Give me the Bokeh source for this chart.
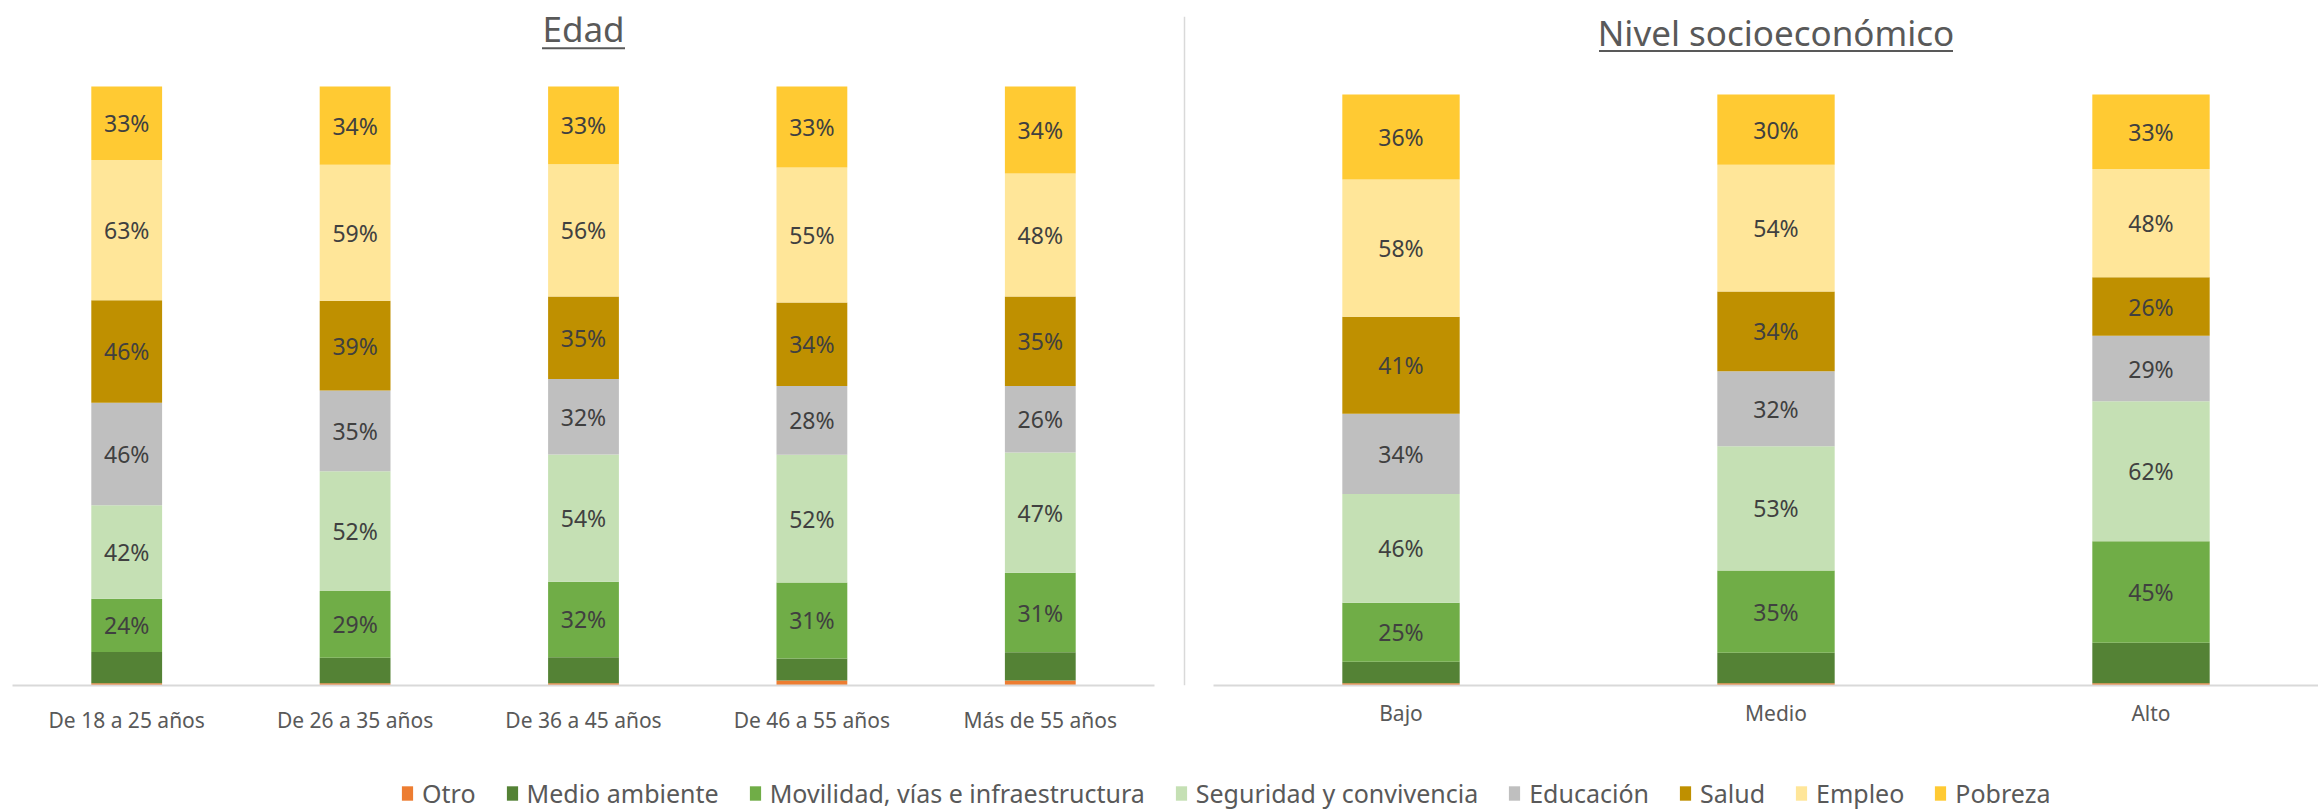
from bokeh.plotting import figure
from bokeh.models import (ColumnDataSource, Range1d, FixedTicker, Label, BoxAnnotation,
                          Span, Legend, LegendItem)
from bokeh.layouts import row, column
from bokeh.embed import file_html
from bokeh.resources import INLINE
from bokeh.core.properties import value

# ---------------- data ----------------
series = ["Otro", "Medio ambiente", "Movilidad, vías e infraestructura",
          "Seguridad y convivencia", "Educación", "Salud", "Empleo", "Pobreza"]
colors = ["#ED7D31", "#548235", "#70AD47", "#C5E0B4", "#BFBFBF", "#BF9000", "#FFE699", "#FFCA33"]
labeled = [False, False, True, True, True, True, True, True]

edad_cats = ["De 18 a 25 años", "De 26 a 35 años", "De 36 a 45 años", "De 46 a 55 años", "Más de 55 años"]
edad_otro = [1, 1, 1, 2, 2]
edad_medio_ambiente = [14, 11, 11, 9, 11]
edad_movilidad = [24, 29, 32, 31, 31]
edad_seguridad = [42, 52, 54, 52, 47]
edad_educacion = [46, 35, 32, 28, 26]
edad_salud = [46, 39, 35, 34, 35]
edad_empleo = [63, 59, 56, 55, 48]
edad_pobreza = [33, 34, 33, 33, 34]

nse_cats = ["Bajo", "Medio", "Alto"]
nse_otro = [1, 1, 1]
nse_medio_ambiente = [9, 13, 18]
nse_movilidad = [25, 35, 45]
nse_seguridad = [46, 53, 62]
nse_educacion = [34, 32, 29]
nse_salud = [41, 34, 26]
nse_empleo = [58, 54, 48]
nse_pobreza = [36, 30, 33]

FONT = "Noto Sans"
TEXT_GREY = "#595959"
LABEL_GREY = "#404040"
AXIS_GREY = "#D9D9D9"
FRAME_TOP = 16
BASE = 685          # common baseline (frames of the two charts are aligned)
ROW_H = 765
TOTAL_W = 2318
TOTAL_H = 811


def build(cats, vals, title, *, fig_w, border_l, border_r, top_px,
          x_ppu, bar_w, title_mid_px, ul_px, ul_w, standoff):
    n = len(cats)
    frame_w = fig_w - border_l - border_r
    border_b = ROW_H - BASE
    x_start = -0.5
    x_end = x_start + frame_w / x_ppu
    y_ppu = BASE - top_px

    def yv(px):
        return (BASE - px) / y_ppu

    y_end = yv(FRAME_TOP)
    p = figure(width=fig_w, height=ROW_H, x_range=Range1d(x_start, x_end),
               y_range=Range1d(0, y_end), toolbar_location=None, output_backend="svg",
               title=None, min_border_left=border_l, min_border_right=border_r,
               min_border_top=FRAME_TOP, min_border_bottom=border_b)

    totals = [sum(v[i] for v in vals) for i in range(n)]
    data = {"x": list(range(n))}
    for s, v in zip(series, vals):
        data[s] = [a / t for a, t in zip(v, totals)]
    p.vbar_stack(series, x="x", width=bar_w, color=colors, source=ColumnDataSource(data),
                 line_color=None)

    lx, ly, lt = [], [], []
    cum = [0.0] * n
    for s, v, lab in zip(series, vals, labeled):
        for i in range(n):
            f = v[i] / totals[i]
            if lab:
                lx.append(i)
                ly.append(cum[i] + f / 2)
                lt.append(f"{v[i]}%")
            cum[i] += f
    p.text(x="x", y="y", text="t", source=ColumnDataSource(dict(x=lx, y=ly, t=lt)),
           text_align="center", text_baseline="middle", text_font=value(FONT),
           text_font_size="23px", text_color=LABEL_GREY)

    p.yaxis.visible = False
    p.xgrid.visible = False
    p.ygrid.visible = False
    p.outline_line_color = None
    ax = p.xaxis[0]
    ax.ticker = FixedTicker(ticks=list(range(n)))
    ax.major_label_overrides = {i: c for i, c in enumerate(cats)}
    ax.major_tick_line_color = None
    ax.minor_tick_line_color = None
    ax.major_tick_in = 0
    ax.major_tick_out = 0
    ax.minor_tick_in = 0
    ax.minor_tick_out = 0
    ax.axis_line_color = AXIS_GREY
    ax.axis_line_width = 2
    ax.major_label_text_font = FONT
    ax.major_label_text_font_size = "21px"
    ax.major_label_text_color = TEXT_GREY
    ax.major_label_standoff = standoff

    cx = (n - 1) / 2
    p.add_layout(Label(x=cx, y=yv(title_mid_px), text=title, text_align="center",
                       text_baseline="middle", text_font=FONT, text_font_size="35px",
                       text_color=TEXT_GREY))
    half = ul_w / 2 / x_ppu
    p.add_layout(BoxAnnotation(left=cx - half, right=cx + half, bottom=yv(ul_px + 1),
                               top=yv(ul_px - 1), fill_color=TEXT_GREY, fill_alpha=1,
                               line_color=None))
    return p


p1 = build(edad_cats,
           [edad_otro, edad_medio_ambiente, edad_movilidad, edad_seguridad,
            edad_educacion, edad_salud, edad_empleo, edad_pobreza],
           "Edad", fig_w=1170, border_l=12, border_r=16,
           top_px=86, x_ppu=228.4, bar_w=0.31,
           title_mid_px=28, ul_px=47.7, ul_w=83, standoff=20)

p2 = build(nse_cats,
           [nse_otro, nse_medio_ambiente, nse_movilidad, nse_seguridad,
            nse_educacion, nse_salud, nse_empleo, nse_pobreza],
           "Nivel socioeconómico", fig_w=TOTAL_W - 1170 - 29, border_l=14,
           border_r=0, top_px=94, x_ppu=375, bar_w=0.313,
           title_mid_px=32, ul_px=50.5, ul_w=354, standoff=13)

# divider
pd = figure(width=29, height=ROW_H, x_range=Range1d(0, 29), y_range=Range1d(0, 1),
            toolbar_location=None, output_backend="svg", title=None, min_border_left=0,
            min_border_right=0, min_border_top=13, min_border_bottom=2)
pd.axis.visible = False
pd.grid.visible = False
pd.outline_line_color = None
pd.add_layout(Span(location=14, dimension="height", line_color=AXIS_GREY, line_width=1.5))

# legend
pleg = figure(width=TOTAL_W, height=TOTAL_H - ROW_H, x_range=Range1d(0, 1), y_range=Range1d(0, 1),
              toolbar_location=None, output_backend="svg", title=None, min_border=0,
              min_border_left=0, min_border_right=0, min_border_top=0, min_border_bottom=0)
pleg.axis.visible = False
pleg.grid.visible = False
pleg.outline_line_color = None
items = []
for s, c in zip(series, colors):
    r = pleg.vbar(x=[-5], top=[-5], width=0.1, fill_color=c, line_color=None)
    items.append(LegendItem(label=s, renderers=[r]))
legend = Legend(items=items, location=(400, 1), orientation="horizontal", padding=0, margin=0,
                spacing=29, label_standoff=8, glyph_width=14, glyph_height=18,
                label_text_font=FONT, label_text_font_size="25px", label_text_color=TEXT_GREY,
                border_line_color=None, background_fill_alpha=0)
pleg.add_layout(legend)

layout = column(row(p1, pd, p2), pleg)

with open("out.html", "w") as f:
    f.write(file_html(layout, INLINE))
